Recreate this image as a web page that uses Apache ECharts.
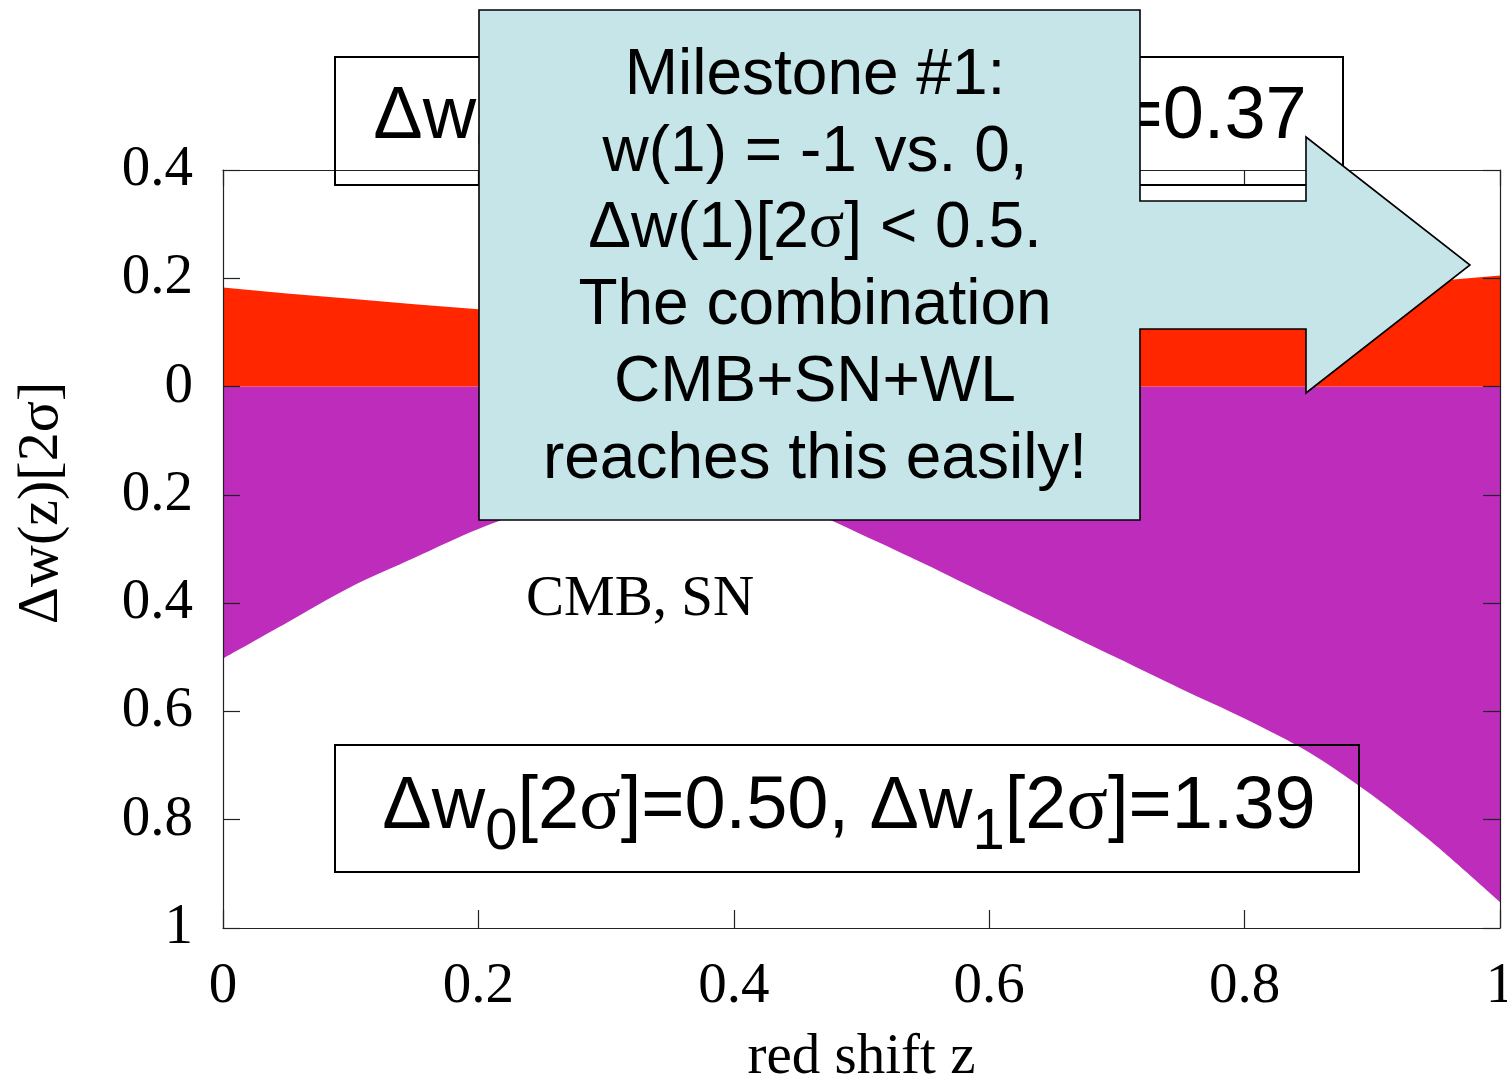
<!DOCTYPE html>
<html>
<head>
<meta charset="utf-8">
<script src="https://cdn.jsdelivr.net/npm/echarts@6/dist/echarts.min.js"></script>
<style>
html,body{margin:0;padding:0;background:#fff;}
#chart{width:1507px;height:1078px;}
</style>
</head>
<body>
<div id="chart"></div>
<script>
// ---- data ----
var redshift = [0,0.05,0.1,0.15,0.2,0.25,0.3,0.35,0.4,0.45,0.5,0.55,0.6,0.65,0.7,0.75,0.8,0.85,0.9,0.95,1.0];
var combinedUpper = [0.183,0.172,0.162,0.152,0.143,0.136,0.131,0.128,0.127,0.128,0.131,0.136,0.142,0.149,0.157,0.165,0.173,0.181,0.188,0.195,0.205];
var cmbSnLower = [-0.502,-0.436,-0.37,-0.316,-0.263,-0.222,-0.198,-0.19,-0.196,-0.222,-0.273,-0.328,-0.386,-0.444,-0.501,-0.558,-0.613,-0.675,-0.755,-0.848,-0.952];
var xTickLabels = ['0','0.2','0.4','0.6','0.8','1'];
var yTickLabels = ['1','0.8','0.6','0.4','0.2','0','0.2','0.4'];

var SERIF = '"Liberation Serif","DejaVu Serif",serif';
var SANS = '"Liberation Sans",Arial,sans-serif';

function pairs(xs, ys){ return xs.map(function(x,i){ return [x, ys[i]]; }); }

var chart = echarts.init(document.getElementById('chart'), null, {renderer:'canvas'});

var axisLineStyle = {color:'#222', width:1.2};
var xFmt = function(v){ return xTickLabels[Math.round(v/0.2)]; };
var yFmt = function(v){ return yTickLabels[Math.round((v+1)/0.2)]; };

var richMain = {
  m: {fontSize:74, fontFamily:SANS, color:'#000'},
  g: {fontSize:77, fontFamily:SERIF, color:'#000'},
  s: {fontSize:58, fontFamily:SANS, color:'#000', padding:[50,0,0,0]}
};
var richCallout = {
  m: {fontSize:64, fontFamily:SANS, color:'#000'},
  g: {fontSize:66, fontFamily:SERIF, color:'#000'}
};
var calloutLines = ['{m|Milestone #1:}','{m|w(1) = -1 vs. 0,}','{m|\u0394w(1)[2}{g|\u03c3}{m|] < 0.5.}','{m|The combination}','{m|CMB+SN+WL}','{m|reaches this easily!}'];

var graphics = [
  {type:'rect', z:100, shape:{x:335,y:57,width:1008,height:128}, style:{fill:'none', stroke:'#000', lineWidth:2}},
  {type:'text', z:100, x:840, y:118, style:{text:'{m|\u0394w}{s|0}{m|[2}{g|\u03c3}{m|]=0.18, \u0394w}{s|1}{m|[2}{g|\u03c3}{m|]=0.37}', rich:richMain, align:'center', verticalAlign:'middle'}},
  {type:'rect', z:100, shape:{x:335,y:745,width:1024,height:127}, style:{fill:'none', stroke:'#000', lineWidth:2}},
  {type:'text', z:100, x:849, y:808, style:{text:'{m|\u0394w}{s|0}{m|[2}{g|\u03c3}{m|]=0.50, \u0394w}{s|1}{m|[2}{g|\u03c3}{m|]=1.39}', rich:richMain, align:'center', verticalAlign:'middle'}},
  {type:'text', z:100, x:640, y:600, style:{text:'CMB, SN', fontSize:57, fontFamily:SERIF, fill:'#000', align:'center', verticalAlign:'middle'}},
  {type:'text', z:100, x:42, y:503, rotation:Math.PI/2, style:{text:'\u0394w(z)[2\u03c3]', fontSize:58, fontFamily:SERIF, fill:'#000', align:'center', verticalAlign:'middle'}},
  {type:'polygon', z:110, shape:{points:[[479,10],[1140,10],[1140,201],[1306,201],[1306,137],[1470,265],[1306,393],[1306,329],[1140,329],[1140,520],[479,520]]}, style:{fill:'#c5e5e8', stroke:'#000', lineWidth:1.6}}
];
var lineY = [76,153,229,306,383,460];
calloutLines.forEach(function(t,i){
  graphics.push({type:'text', z:120, x:815, y:lineY[i], style:{text:t, rich:richCallout, align:'center', verticalAlign:'middle'}});
});

var option = {
  animation:false,
  backgroundColor:'#fff',
  grid:{left:223, right:7, top:170, bottom:150, containLabel:false, outerBoundsMode:'none'},
  xAxis:[
    {type:'value', min:0, max:1, interval:0.2, position:'bottom', z:10,
     name:'red shift z', nameLocation:'middle', nameGap:102,
     nameTextStyle:{fontSize:57, fontFamily:SERIF, color:'#000'},
     axisLine:{show:true, onZero:false, lineStyle:axisLineStyle},
     axisTick:{show:true, inside:true, length:18, lineStyle:axisLineStyle},
     axisLabel:{show:true, formatter:xFmt, fontSize:57, fontFamily:SERIF, color:'#000', margin:31, showMaxLabel:true, showMinLabel:true},
     splitLine:{show:false}},
    {type:'value', min:0, max:1, interval:0.2, position:'top', z:10,
     axisLine:{show:true, onZero:false, lineStyle:axisLineStyle},
     axisTick:{show:true, inside:true, length:16, lineStyle:axisLineStyle},
     axisLabel:{show:false}, splitLine:{show:false}}
  ],
  yAxis:[
    {type:'value', min:-1, max:0.4, interval:0.2, position:'left', z:10,
     axisLine:{show:true, onZero:false, lineStyle:axisLineStyle},
     axisTick:{show:true, inside:true, length:17, lineStyle:axisLineStyle},
     axisLabel:{show:true, formatter:yFmt, fontSize:57, fontFamily:SERIF, color:'#000', margin:30, padding:[8,0,0,0]},
     splitLine:{show:false}},
    {type:'value', min:-1, max:0.4, interval:0.2, position:'right', z:10,
     axisLine:{show:true, onZero:false, lineStyle:axisLineStyle},
     axisTick:{show:true, inside:true, length:17, lineStyle:axisLineStyle},
     axisLabel:{show:false}, splitLine:{show:false}}
  ],
  series:[
    {type:'line', name:'CMB, SN', xAxisIndex:0, yAxisIndex:0, data:pairs(redshift, cmbSnLower),
     showSymbol:false, symbol:'none', smooth:0.3, lineStyle:{width:0, opacity:0},
     areaStyle:{color:'#bd2cbb', opacity:1, origin:0}, z:2},
    {type:'line', name:'CMB+SN+WL', xAxisIndex:0, yAxisIndex:0, data:pairs(redshift, combinedUpper),
     showSymbol:false, symbol:'none', lineStyle:{width:0, opacity:0},
     areaStyle:{color:'#ff2600', opacity:1, origin:0}, z:2}
  ],
  graphic:graphics
};
chart.setOption(option);
</script>
</body>
</html>
